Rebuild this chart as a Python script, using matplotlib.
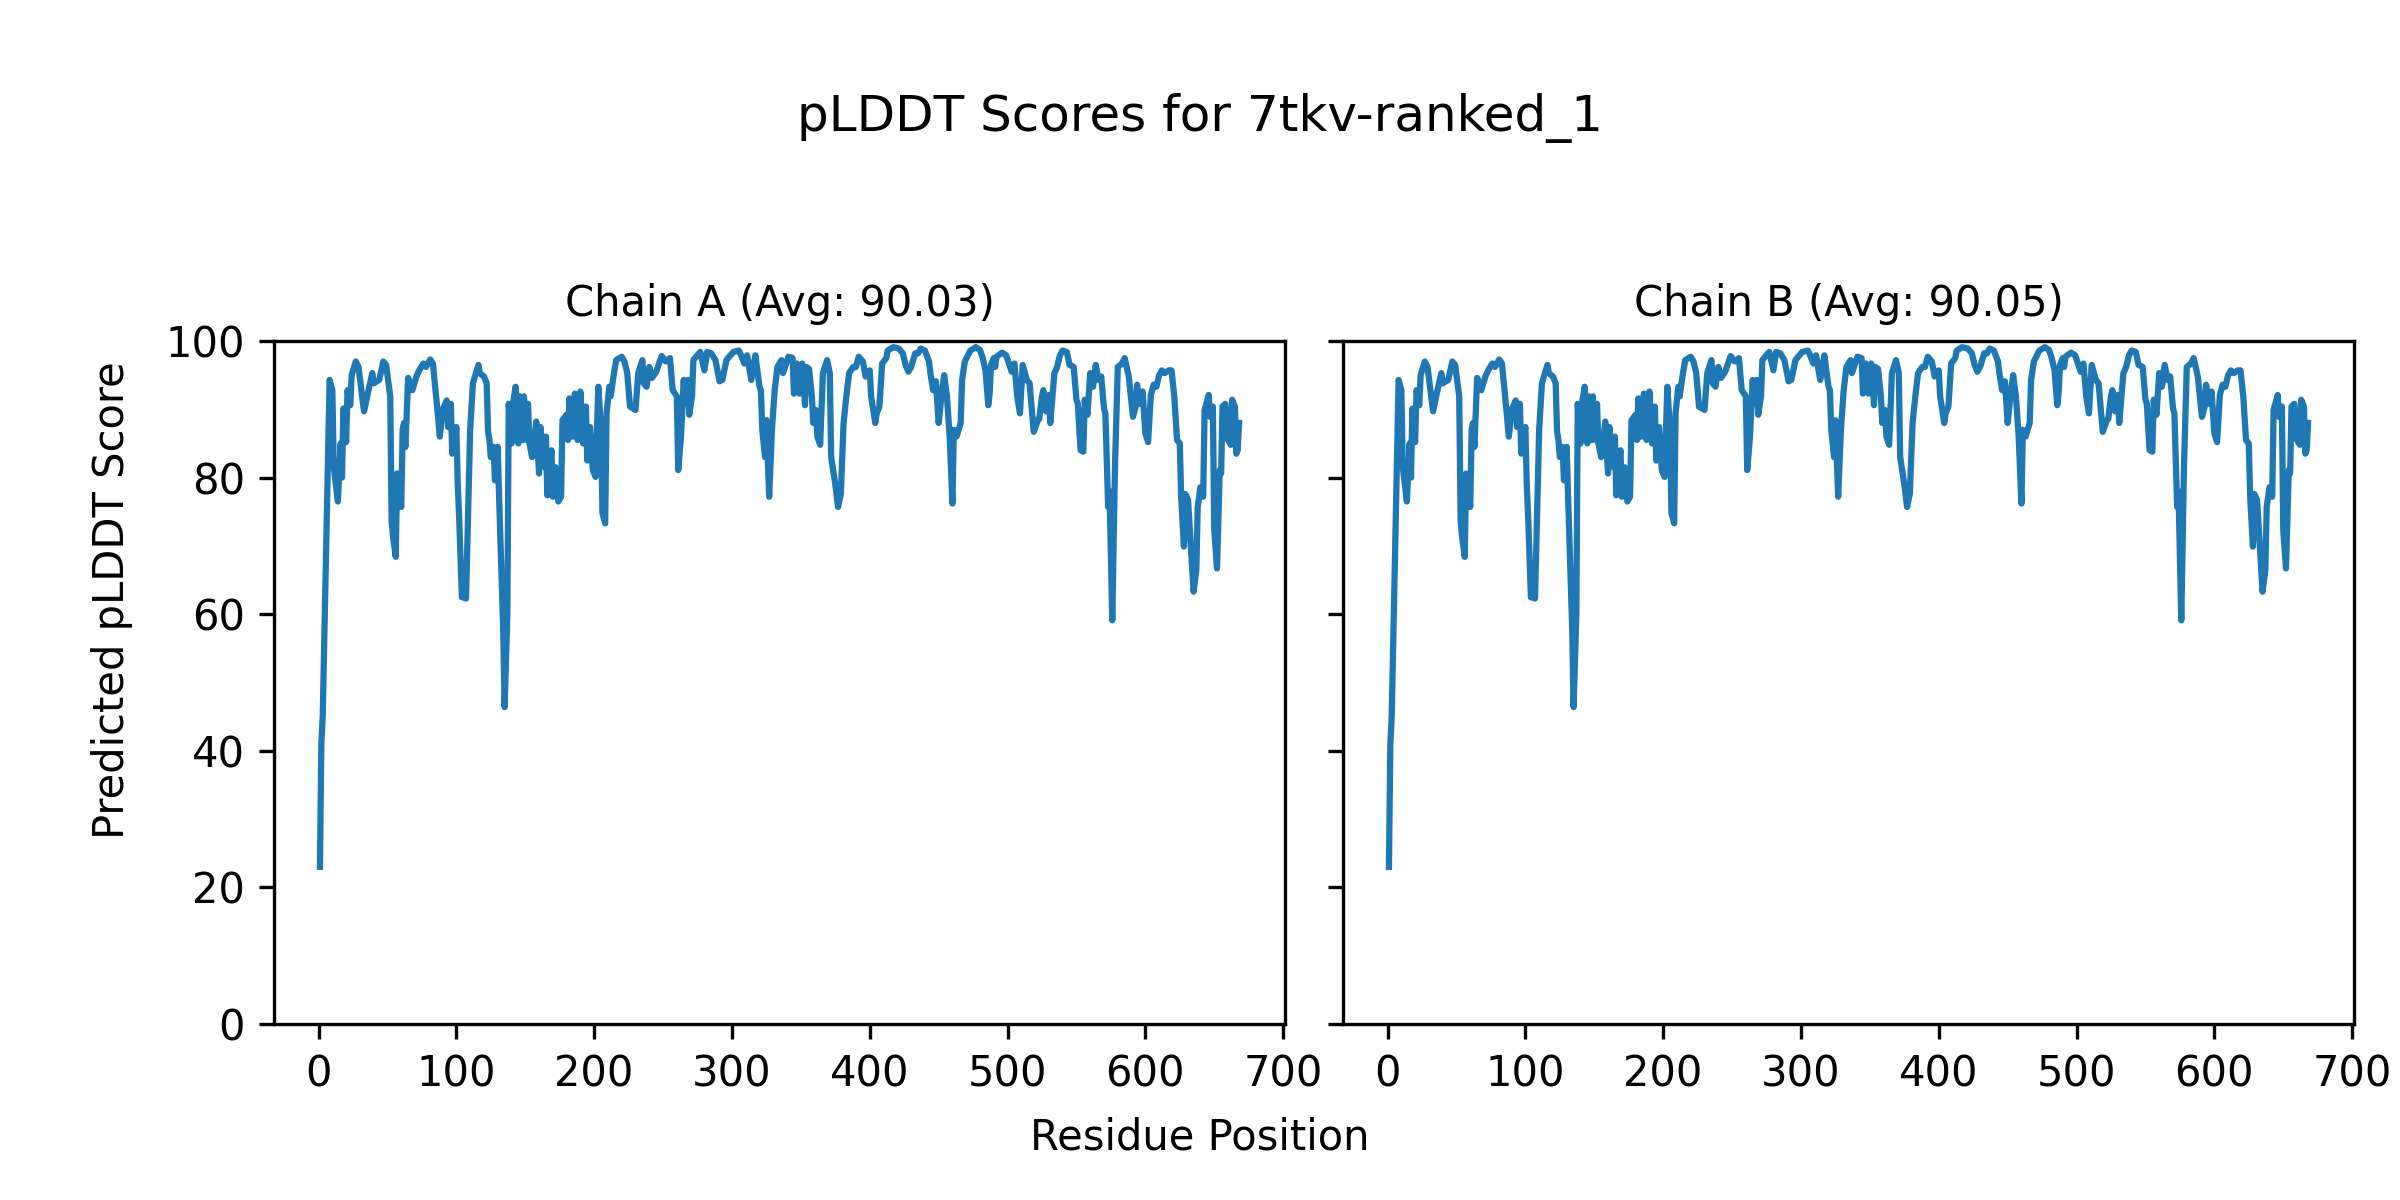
import matplotlib
matplotlib.use("Agg")
import matplotlib.pyplot as plt

title = "pLDDT Scores for 7tkv-ranked_1"
chain_names = ["Chain A", "Chain B"]
chain_avgs = [90.03, 90.05]
x_label = "Residue Position"
y_label = "Predicted pLDDT Score"
x_ticks = [0, 100, 200, 300, 400, 500, 600, 700]
y_ticks = [0, 20, 40, 60, 80, 100]

residues = [1, 2, 3, 8, 10, 11, 14, 16, 17, 18, 20, 21, 23, 24, 27, 29, 33, 36, 39, 40,
            44, 47, 49, 52, 53, 54, 56, 57, 60, 61, 62, 63, 65, 68, 71, 73, 76, 78, 81, 83,
            86, 88, 90, 93, 94, 96, 97, 100, 101, 102, 104, 107, 110, 112, 116, 117, 120, 122, 123, 124,
            125, 127, 128, 130, 131, 134, 135, 137, 138, 140, 141, 143, 145, 146, 148, 149, 151, 152, 153, 155,
            158, 160, 161, 164, 165, 166, 169, 170, 172, 174, 176, 177, 180, 181, 182, 184, 186, 188, 190, 192,
            194, 195, 197, 199, 201, 203, 205, 206, 208, 209, 211, 212, 214, 216, 220, 222, 224, 226, 230, 232,
            235, 236, 238, 240, 242, 245, 249, 252, 255, 257, 260, 261, 263, 265, 266, 268, 269, 271, 272, 274,
            277, 280, 282, 285, 288, 291, 293, 296, 298, 301, 305, 306, 309, 311, 314, 315, 317, 320, 321, 322,
            324, 325, 327, 329, 331, 333, 336, 337, 341, 344, 345, 347, 349, 351, 353, 354, 356, 358, 359, 361,
            362, 364, 366, 369, 371, 372, 375, 377, 379, 381, 383, 385, 388, 390, 392, 395, 397, 400, 401, 404,
            405, 407, 409, 412, 413, 417, 421, 424, 426, 428, 430, 433, 435, 437, 440, 443, 444, 446, 448, 450,
            452, 454, 456, 458, 460, 461, 463, 466, 467, 469, 473, 477, 480, 482, 484, 486, 487, 488, 490, 491,
            492, 496, 499, 503, 505, 507, 509, 511, 514, 516, 519, 522, 523, 525, 526, 528, 530, 531, 534, 536,
            538, 540, 543, 545, 548, 550, 551, 553, 555, 556, 558, 560, 562, 564, 566, 568, 570, 571, 573, 574,
            576, 578, 580, 583, 585, 587, 588, 591, 593, 594, 596, 598, 600, 602, 604, 606, 608, 610, 612, 614,
            617, 619, 621, 623, 625, 626, 628, 629, 631, 633, 635, 637, 638, 640, 642, 643, 646, 647, 649, 650,
            652, 654, 655, 656, 658, 660, 662, 663, 665, 666, 667, 668]

scores_a = [23.0, 41.0, 45.0, 94.3, 92.8, 81.6, 76.5, 85.0, 80.0, 90.1, 85.2, 92.8, 90.6, 95.0, 97.0, 96.2, 89.7, 92.6, 95.3, 93.8,
            94.3, 97.0, 96.5, 91.9, 73.8, 71.4, 68.4, 80.6, 75.7, 87.0, 88.0, 84.5, 94.6, 92.8, 94.8, 95.7, 96.7, 96.2, 97.3, 96.7,
            90.4, 86.0, 89.9, 91.3, 87.4, 90.8, 83.5, 87.4, 79.0, 74.3, 62.5, 62.3, 87.0, 93.8, 96.5, 95.3, 94.8, 93.8, 86.7, 85.5,
            83.0, 84.5, 79.6, 84.5, 77.2, 57.7, 46.4, 60.0, 90.8, 85.0, 90.8, 93.3, 85.0, 91.9, 85.5, 91.9, 85.5, 90.8, 85.0, 83.0,
            88.2, 80.6, 87.4, 81.5, 86.0, 77.4, 84.0, 77.2, 81.5, 76.5, 77.2, 88.4, 89.2, 85.5, 91.6, 86.0, 92.3, 85.5, 92.6, 85.0,
            90.4, 82.5, 87.4, 81.1, 80.1, 93.3, 87.0, 74.8, 73.3, 89.4, 93.3, 91.9, 94.8, 97.2, 97.7, 97.0, 95.3, 90.4, 89.9, 95.3,
            97.2, 93.8, 93.3, 96.2, 94.6, 95.5, 97.8, 97.0, 97.5, 92.8, 91.9, 81.1, 86.0, 94.3, 90.8, 94.3, 89.2, 91.9, 97.2, 97.7,
            98.4, 95.7, 98.4, 98.2, 97.2, 94.1, 94.3, 97.2, 97.7, 98.4, 98.6, 98.2, 96.7, 97.9, 94.3, 95.7, 97.9, 93.3, 92.8, 87.0,
            83.0, 88.4, 77.2, 87.0, 92.8, 96.2, 97.2, 95.3, 97.7, 97.5, 92.3, 96.7, 92.3, 96.7, 90.6, 96.2, 95.9, 91.9, 88.0, 89.9,
            86.0, 84.8, 95.3, 97.2, 95.3, 83.0, 79.0, 75.7, 77.6, 88.0, 91.9, 95.3, 96.2, 96.2, 97.7, 97.0, 94.8, 95.7, 91.9, 88.0,
            89.4, 90.4, 96.7, 97.5, 98.6, 99.1, 98.9, 98.2, 96.5, 95.5, 96.2, 98.2, 98.2, 98.9, 98.6, 97.0, 95.3, 92.8, 94.1, 88.0,
            91.9, 95.0, 91.9, 86.0, 76.2, 87.0, 86.0, 88.0, 94.3, 97.0, 98.6, 99.1, 98.7, 97.5, 95.7, 90.6, 92.3, 96.5, 97.5, 96.2,
            97.7, 98.3, 97.9, 95.5, 96.7, 91.9, 89.4, 96.5, 94.3, 93.8, 86.7, 88.4, 88.6, 91.9, 92.8, 89.7, 92.1, 88.0, 95.3, 96.2,
            97.9, 98.6, 98.4, 96.5, 96.2, 91.4, 90.8, 84.0, 83.8, 91.4, 89.2, 95.3, 93.3, 96.5, 94.3, 94.8, 90.1, 89.4, 75.7, 78.0,
            59.1, 82.0, 96.2, 96.7, 97.5, 95.7, 94.8, 88.9, 90.4, 93.6, 90.8, 92.6, 86.5, 85.2, 92.1, 93.6, 93.3, 95.0, 95.7, 95.3,
            95.7, 95.7, 91.9, 85.5, 85.0, 77.2, 69.9, 77.6, 76.7, 69.9, 63.3, 66.5, 75.7, 78.6, 77.2, 89.9, 92.1, 88.9, 90.4, 72.4,
            66.7, 81.1, 80.6, 90.4, 90.8, 85.5, 84.8, 91.4, 90.4, 83.5, 84.0, 88.0]

scores_b = list(scores_a)

fig = plt.figure(figsize=(8, 4), dpi=300)
ax_a = fig.add_axes([274 / 2400, 1 - 1024 / 1200, 1011 / 2400, 683 / 1200])
ax_b = fig.add_axes([1343 / 2400, 1 - 1024 / 1200, 1011 / 2400, 683 / 1200], sharey=ax_a)

for ax, name, avg, sc in zip([ax_a, ax_b], chain_names, chain_avgs, [scores_a, scores_b]):
    ax.plot(residues, sc, color="#1f77b4", linewidth=1.5)
    ax.set_title(f"{name} (Avg: {avg:.2f})", fontsize=10)
    ax.set_ylim(0, 100)
    ax.set_xticks(x_ticks)
    ax.set_yticks(y_ticks)
    ax.tick_params(labelsize=10)

ax_b.tick_params(labelleft=False)

fig.text(0.5, 1 - 118 / 1200, title, fontsize=12, ha="center", va="center")
fig.text(0.5, 1 - 1137 / 1200, x_label, fontsize=10, ha="center", va="center")
fig.text(112 / 2400, 0.5, y_label, fontsize=10, ha="center", va="center", rotation=90)

fig.savefig("out.png", dpi=300)
